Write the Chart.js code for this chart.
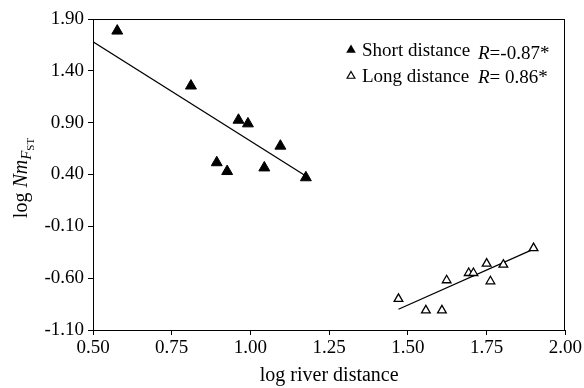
<!DOCTYPE html>
<html>
<head>
<meta charset="utf-8">
<script src="https://cdn.jsdelivr.net/npm/chart.js@4.4.1/dist/chart.umd.min.js"></script>
<style>
  body { margin: 0; background: #fff; }
  canvas { display: block; }
</style>
</head>
<body>
<canvas id="gfChart" width="584" height="388"></canvas>
<script>
// Data
const shortX = [0.577, 0.811, 0.962, 0.992, 0.893, 0.926, 1.044, 1.095, 1.176];
const shortY = [1.785, 1.255, 0.925, 0.89, 0.515, 0.43, 0.465, 0.675, 0.37];
const longX = [1.470, 1.557, 1.608, 1.623, 1.693, 1.708, 1.750, 1.762, 1.803, 1.899];
const longY = [-0.80, -0.91, -0.91, -0.62, -0.55, -0.55, -0.46, -0.63, -0.47, -0.31];

// Regression lines (end points)
const shortFitX = [0.50, 1.176];
const shortFitY = [1.68, 0.385];
const longFitX = [1.470, 1.899];
const longFitY = [-0.90, -0.32];

const xTicks = [0.50, 0.75, 1.00, 1.25, 1.50, 1.75, 2.00];
const yTicks = [-1.10, -0.60, -0.10, 0.40, 0.90, 1.40, 1.90];

const legendLabels = ["Short distance", "Long distance"];
const legendR = ["=-0.87*", "= 0.86*"];

const SERIF = "'Liberation Serif', 'Times New Roman', serif";

function pts(xs, ys) {
    return xs.map((x, i) => ({ x: x, y: ys[i] }));
}

// frame, y title and legend drawn by hand (mixed italics)
const extras = {
    id: "extras",
    afterDraw(chart) {
        const ctx = chart.ctx;
        const a = chart.chartArea;
        ctx.save();
        ctx.strokeStyle = "#000";
        ctx.lineWidth = 1;
        ctx.strokeRect(Math.round(a.left) + 0.5, Math.round(a.top) + 0.5,
            Math.round(a.right - a.left) - 1, Math.round(a.bottom - a.top));

        // y axis title: log NmFST
        ctx.translate(27, 178);
        ctx.rotate(-Math.PI / 2);
        ctx.fillStyle = "#000";
        ctx.textBaseline = "alphabetic";
        const parts = [
            { t: "log ", f: "20px " + SERIF, dy: 0 },
            { t: "Nm", f: "italic 20px " + SERIF, dy: 0 },
            { t: "F", f: "italic 15px " + SERIF, dy: 4 },
            { t: "ST", f: "11px " + SERIF, dy: 7 }
        ];
        let total = 0;
        parts.forEach(p => { ctx.font = p.f; p.w = ctx.measureText(p.t).width; total += p.w; });
        let x = -total / 2;
        parts.forEach(p => {
            ctx.font = p.f;
            ctx.fillText(p.t, x, p.dy);
            x += p.w;
        });
        ctx.restore();

        // legend
        ctx.save();
        ctx.fillStyle = "#000";
        const rows = [56, 82];
        rows.forEach((by, i) => {
            const mx = 351, my = by - 6;
            ctx.beginPath();
            const r = i === 0 ? 5.5 : 4.5;
            ctx.moveTo(mx, my - r);
            ctx.lineTo(mx + r * 0.87, my + r * 0.5);
            ctx.lineTo(mx - r * 0.87, my + r * 0.5);
            ctx.closePath();
            if (i === 0) {
                ctx.fill();
            } else {
                ctx.lineWidth = 1.2;
                ctx.stroke();
            }
            ctx.font = "19px " + SERIF;
            ctx.fillText(legendLabels[i], 362, by);
            ctx.font = "italic 19px " + SERIF;
            const rb = by + (i === 0 ? 3 : 1);
            ctx.fillText("R", 478, rb);
            const rw = ctx.measureText("R").width;
            ctx.font = "19px " + SERIF;
            ctx.fillText(legendR[i], 478 + rw, rb);
        });
        ctx.restore();
    }
};

const ctx = document.getElementById("gfChart").getContext("2d");

new Chart(ctx, {
    type: "scatter",
    data: {
        datasets: [
            {
                label: "Short distance",
                data: pts(shortX, shortY),
                pointStyle: "triangle",
                pointRadius: 6.3,
                backgroundColor: "#000",
                borderColor: "#000",
                borderWidth: 1
            },
            {
                label: "Long distance",
                data: pts(longX, longY),
                pointStyle: "triangle",
                pointRadius: 5,
                backgroundColor: "#fff",
                borderColor: "#000",
                borderWidth: 1.3
            },
            {
                label: "fit short",
                data: pts(shortFitX, shortFitY),
                showLine: true,
                pointRadius: 0,
                borderColor: "#000",
                borderWidth: 1.3
            },
            {
                label: "fit long",
                data: pts(longFitX, longFitY),
                showLine: true,
                pointRadius: 0,
                borderColor: "#000",
                borderWidth: 1.3
            }
        ]
    },
    options: {
        responsive: false,
        animation: false,
        layout: { padding: { left: 0, right: 17, top: 19, bottom: 0 } },
        plugins: {
            legend: { display: false },
            tooltip: { enabled: false }
        },
        scales: {
            x: {
                min: 0.5,
                max: 2.0,
                afterBuildTicks: s => { s.ticks = xTicks.map(v => ({ value: v })); },
                afterFit: s => { s.height = 58; },
                ticks: {
                    color: "#000",
                    font: { family: SERIF, size: 19 },
                    padding: 2,
                    maxRotation: 0,
                    callback: v => Number(v).toFixed(2)
                },
                grid: { drawOnChartArea: false, drawTicks: true, tickLength: 5, color: "#000" },
                border: { display: true, color: "#000", width: 1 },
                title: {
                    display: true,
                    text: "log river distance",
                    color: "#000",
                    font: { family: SERIF, size: 20 },
                    padding: { top: 3, bottom: 0 }
                }
            },
            y: {
                min: -1.1,
                max: 1.9,
                afterBuildTicks: s => { s.ticks = yTicks.map(v => ({ value: v })); },
                afterFit: s => { s.width = 93; },
                ticks: {
                    color: "#000",
                    font: { family: SERIF, size: 19 },
                    padding: 4,
                    callback: v => Number(v).toFixed(2)
                },
                grid: { drawOnChartArea: false, drawTicks: true, tickLength: 5, color: "#000" },
                border: { display: true, color: "#000", width: 1 }
            }
        }
    },
    plugins: [extras]
});
</script>
</body>
</html>
